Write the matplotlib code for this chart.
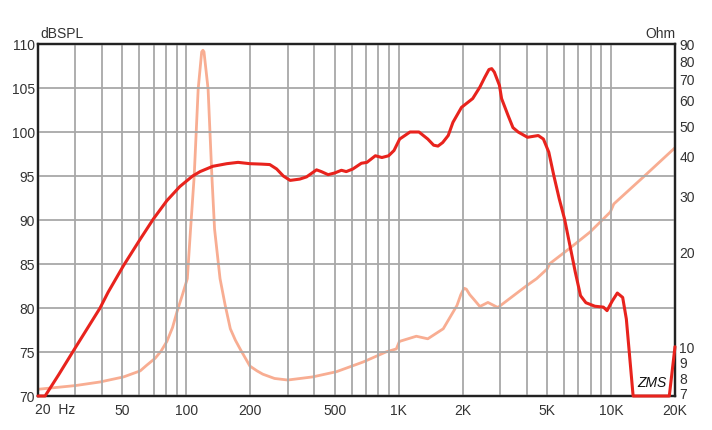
import matplotlib
matplotlib.use("Agg")
import matplotlib.pyplot as plt
import matplotlib.transforms as mtransforms
from matplotlib.ticker import FixedLocator, NullLocator, NullFormatter

plt.rcParams["font.family"] = ["Liberation Sans", "DejaVu Sans"]

# SPL response (dB); clipped to 70 at the bottom
spl_freq = [20, 21.6, 25, 30, 39.2, 42.8, 50.5, 60.5, 69.8, 80.9, 93.1, 107, 116, 133, 155,
            175, 199, 226, 247, 266, 286, 308, 342, 368, 410, 432, 465, 500, 537, 566, 608,
            667, 708, 776, 833, 896, 950, 1010, 1130, 1245, 1370, 1460, 1530, 1610, 1710,
            1800, 1975, 2230, 2410, 2540, 2660, 2740, 2820, 2980, 3050, 3270, 3450, 3650,
            4040, 4540, 4800, 5090, 5380, 5700, 6040, 6400, 6780, 7180, 7610, 8390, 9200,
            9570, 10130, 10700, 11340, 11800, 12700, 18800, 20000]
spl_db = [70, 70, 72.4, 75.5, 80, 81.8, 84.8, 87.8, 90.1, 92.2, 93.8, 95.0, 95.5, 96.1, 96.4,
          96.55, 96.4, 96.35, 96.3, 95.8, 95.0, 94.5, 94.65, 94.9, 95.7, 95.5, 95.15, 95.35,
          95.65, 95.5, 95.8, 96.45, 96.55, 97.3, 97.1, 97.3, 97.9, 99.2, 100.0, 100.0, 99.2,
          98.5, 98.4, 98.8, 99.6, 101.1, 102.8, 103.8, 105.1, 106.2, 107.1, 107.2, 106.8,
          105.3, 103.8, 101.9, 100.5, 100.0, 99.4, 99.6, 99.2, 97.7, 95.0, 92.4, 90.1, 87.1,
          84.1, 81.4, 80.6, 80.2, 80.1, 79.7, 80.8, 81.7, 81.2, 78.75, 70, 70, 75.6]

# impedance (Ohm)
imp_freq = [20, 30, 39.2, 50.6, 60.6, 65, 71.2, 76, 80.9, 86, 90.3, 95.5, 101, 104.6, 108.8,
            113.6, 118, 119.6, 121, 126.5, 131.8, 135.7, 144, 152, 161, 170, 179, 199, 215,
            229, 260, 300, 393, 509, 680, 872, 974, 1007, 1210, 1370, 1620, 1880, 1960, 2030,
            2080, 2160, 2240, 2410, 2630, 2930, 4010, 4460, 5000, 5150, 6360, 7960, 9920,
            10300, 14200, 20000]
imp_ohm = [7.35, 7.55, 7.75, 8.04, 8.4, 8.75, 9.2, 9.7, 10.4, 11.5, 12.9, 14.5, 16.4, 23.5,
           34.5, 64.9, 85, 86, 85, 64.9, 34.5, 23.5, 16.4, 13.6, 11.4, 10.5, 9.85, 8.7, 8.4,
           8.2, 7.95, 7.86, 8.04, 8.35, 8.96, 9.64, 9.85, 10.4, 10.8, 10.6, 11.4, 13.5, 14.6,
           15.3, 15.2, 14.6, 14.2, 13.4, 13.8, 13.3, 15.6, 16.4, 17.6, 18.3, 20.4, 23.0,
           26.6, 28.2, 34.3, 42.4]

x_ticks = [20, 50, 100, 200, 500, 1000, 2000, 5000, 10000, 20000]
x_labels = ["", "50", "100", "200", "500", "1K", "2K", "5K", "10K", "20K"]
db_ticks = [70, 75, 80, 85, 90, 95, 100, 105, 110]
ohm_ticks = [7, 8, 9, 10, 20, 30, 40, 50, 60, 70, 80, 90]

grid_freqs = [m * 10 ** d for d in range(1, 5) for m in range(1, 10)]
grid_freqs = [f for f in grid_freqs if 20 < f < 20000]

fig = plt.figure(figsize=(7.12, 4.31), dpi=100)
ax = fig.add_axes([38 / 712, 1 - 397 / 431, 637 / 712, 352 / 431])
ax.set_xscale("log")
ax.set_xlim(20, 20000)
ax.set_ylim(70, 110)

for f in grid_freqs:
    ax.axvline(f, color="#a8a8a8", lw=1.3, zorder=0)
for d in db_ticks[1:-1]:
    ax.axhline(d, color="#a8a8a8", lw=1.3, zorder=0)

ax.xaxis.set_major_locator(FixedLocator(x_ticks))
ax.set_xticklabels(x_labels)
ax.xaxis.set_minor_locator(NullLocator())
ax.xaxis.set_minor_formatter(NullFormatter())
ax.set_yticks(db_ticks)
ax.tick_params(length=0, labelsize=10, labelcolor="#333333", pad=5)
ax.tick_params(axis="y", pad=2)

ax2 = ax.twinx()
ax2.set_yscale("log")
ax2.set_ylim(7, 90)
ax2.yaxis.set_major_locator(FixedLocator(ohm_ticks))
ax2.set_yticklabels([str(t) for t in ohm_ticks])
ax2.yaxis.set_minor_locator(NullLocator())
ax2.yaxis.set_minor_formatter(NullFormatter())
ax2.tick_params(length=0, labelsize=10, labelcolor="#333333", pad=3)
# lift the "7" a little so it clears the "20K" below it
lbl7 = ax2.get_yticklabels()[0]
lbl7.set_transform(lbl7.get_transform() + mtransforms.ScaledTranslation(0, 3 / 100, fig.dpi_scale_trans))

ax2.plot(imp_freq, imp_ohm, color="#f8ad92", lw=2, zorder=2,
         solid_joinstyle="round", solid_capstyle="round")
ax.set_zorder(ax2.get_zorder() + 1)
ax.patch.set_visible(False)
ax.plot(spl_freq, spl_db, color="#e8231d", lw=2.2, zorder=3, clip_on=False,
        solid_joinstyle="round", solid_capstyle="round")

for a in (ax, ax2):
    for s in a.spines.values():
        s.set_color("#222222")
        s.set_linewidth(1.6)

fig.text(40 / 712, 1 - 38 / 431, "dBSPL", fontsize=10, color="#333333", va="baseline")
fig.text(676 / 712, 1 - 38 / 431, "Ohm", fontsize=10, color="#333333", va="baseline", ha="right")
fig.text(35 / 712, 1 - 414 / 431, "20  Hz", fontsize=10, color="#333333", va="baseline")
ax.text(15600, 71.6, "ZMS", fontsize=10, style="italic", color="#111111", ha="center", va="center")

fig.savefig("out.png", dpi=100)
